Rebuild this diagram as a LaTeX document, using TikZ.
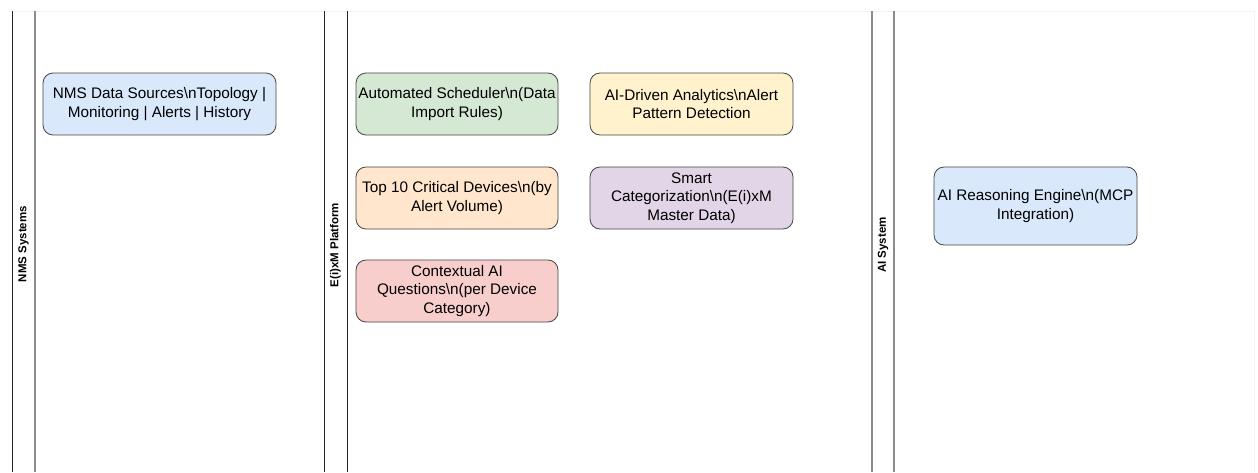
\documentclass[tikz,border=0pt]{standalone}
\usepackage{fontspec}
\setmainfont{Liberation Sans}
\definecolor{bBlue}{HTML}{DAE8FC}
\definecolor{bGreen}{HTML}{D5E8D4}
\definecolor{bYellow}{HTML}{FFF2CC}
\definecolor{bOrange}{HTML}{FFE6CC}
\definecolor{bPurple}{HTML}{E1D5E7}
\definecolor{bRed}{HTML}{F8CECC}
\definecolor{edge}{HTML}{444444}
\newcommand{\bsn}{\textbackslash n}
\tikzset{
  card/.style={draw=edge, line width=0.8pt, rounded corners=10pt, minimum height=62pt,
    align=center, font=\fontsize{15.3}{18.5}\selectfont, inner sep=0pt},
  lanelabel/.style={rotate=90, font=\bfseries\fontsize{11.5}{13}\selectfont, inner sep=0pt},
  darkline/.style={draw=black!85, line width=0.9pt},
  greyline/.style={draw=black!45, line width=1.1pt},
  faint/.style={draw=black!4, line width=0.8pt}
}
\begin{document}
\begin{tikzpicture}[x=1pt,y=-1pt]
\useasboundingbox (0,0) rectangle (1258,472);
% faint frame
\draw[faint] (12,11) -- (1254,11);
\draw[faint] (1254,11) -- (1254,472);
% lane lines
\draw[darkline] (12,11) -- (12,472);
\draw[greyline] (35,11) -- (35,472);
\draw[darkline] (324,11) -- (324,472);
\draw[darkline] (347,11) -- (347,472);
\draw[greyline] (872,11) -- (872,472);
\draw[greyline] (894,11) -- (894,472);
% lane labels
\node[lanelabel] (l1) at (23.5,244) {NMS Systems};
\node[lanelabel] (l2) at (335.5,245) {E(i)xM Platform};
\node[lanelabel] (l3) at (883,245) {AI System};
% boxes
\node[card, fill=bBlue, minimum width=233pt] (nms) at (159.5,104) {NMS Data Sources\bsn Topology |\\Monitoring | Alerts | History};
\node[card, fill=bGreen, minimum width=202pt] (sched) at (457,104) {Automated Scheduler\bsn(Data\\Import Rules)};
\node[card, fill=bYellow, minimum width=203pt] (ana) at (691.5,104) {AI-Driven Analytics\bsn Alert\\Pattern Detection};
\node[card, fill=bOrange, minimum width=202pt] (top) at (457,198) {Top 10 Critical Devices\bsn(by\\Alert Volume)};
\node[card, fill=bPurple, minimum width=203pt] (smart) at (691.5,198) {Smart\\Categorization\bsn(E(i)xM\\Master Data)};
\node[card, fill=bRed, minimum width=202pt] (ctx) at (457,291) {Contextual AI\\Questions\bsn(per Device\\Category)};
\node[card, fill=bBlue, minimum width=203pt, minimum height=78pt] (eng) at (1035.5,206) {AI Reasoning Engine\bsn(MCP\\Integration)};
\end{tikzpicture}
\end{document}
